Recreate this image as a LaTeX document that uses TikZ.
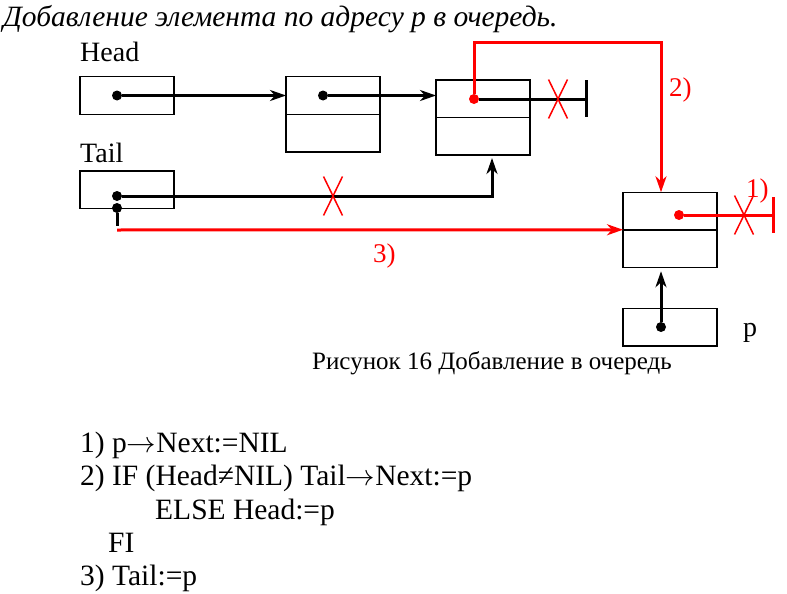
\RequirePackage{fix-cm}
\documentclass[tikz,border=0pt]{standalone}
\usepackage{fontspec}
\setmainfont{Liberation Serif}
\newcommand\toarrow{\ensuremath{\rightarrow}}
\usetikzlibrary{arrows.meta,positioning}

\begin{document}
\begin{tikzpicture}[
    x=1pt, y=-1pt,
    cell/.style={draw, line width=1.5pt, minimum width=94pt, minimum height=37.5pt, inner sep=0pt, outer sep=0pt},
    ptr/.style={->, >={Stealth[length=16pt,width=11pt,inset=5pt]}, line width=3pt},
    redptr/.style={ptr, red},
    link/.style={line width=3pt},
    dot/.style={circle, fill, inner sep=0pt, minimum size=10pt},
    xmark/.style={red, line width=1.5pt},
    lbl/.style={font=\fontsize{28}{32}\selectfont, inner sep=0pt, anchor=base west},
    code/.style={font=\fontsize{29.5}{34}\selectfont, inner sep=0pt, anchor=base west}
]
\useasboundingbox (0,0) rectangle (787,594);

% Title
\node[anchor=base west, inner sep=0pt, font=\fontsize{29.5}{34}\selectfont\itshape] (title) at (3,27)
    {Добавление элемента по адресу р в очередь.};

% Cells of the queue
\node[cell] (hp) at (127,95.5) {};
\node[cell] (b2a) at (333,95.5) {};
\node[cell, below=0pt of b2a] (b2b) {};
\node[cell] (b3a) at (483,98.75) {};
\node[cell, below=0pt of b3a] (b3b) {};
\node[cell] (tp) at (127,189.5) {};
\node[cell] (b4a) at (670,211) {};
\node[cell, below=0pt of b4a] (b4b) {};
\node[cell] (pp) at (670,327) {};

% Labels
\node[lbl] (head) at (80,62) {Head};
\node[lbl] (tail) at (80,162) {Tail};
\node[lbl] (plbl) at (743,336) {p};
\node[lbl, red, font=\fontsize{27}{30}\selectfont] (s2) at (669,96) {2)};
\node[lbl, red, font=\fontsize{27}{30}\selectfont] (s1) at (746,197) {1)};
\node[lbl, red, font=\fontsize{27}{30}\selectfont] (s3) at (373,262) {3)};

% Pointers
\node[dot] (hd) at (117,95.5) {};
\node[dot] (d2) at (323,95.5) {};
\node[dot, red] (d3) at (474,99) {};
\node[dot] (td) at (117,196) {};
\node[dot] (td2) at (117,208) {};
\node[dot, red] (d4) at (679,215) {};
\node[dot] (pd) at (661,327) {};

\coordinate (nil3) at (586,99);
\coordinate (nil4) at (773,215);
\coordinate (tc) at (492,196);
\coordinate (tr) at (117,230);
\coordinate (c2) at (661,43);

\draw[ptr] (hd) -- (b2a.west);
\draw[ptr] (d2) -- (b3a.west |- d2);
\draw[link] (d3) -- (nil3);
\draw[link] (nil3) ++(0,-19) -- ++(0,37);
\draw[ptr, shorten >=3pt] (td) -- (tc) -- (tc |- b3b.south);
\draw[link] (td2) -- ++(0,18);
\draw[ptr, shorten >=4pt] (pd) -- (pd |- b4b.south);

% New links (red)
\draw[redptr] (d3) |- (c2) -- (c2 |- b4a.north);
\draw[redptr] (tr) -- (b4a.south west);
\draw[link, red] (d4) -- (nil4);
\draw[link, red] (nil4) ++(0,-18) -- ++(0,36);

% Crossed out links
\coordinate (x3) at (558,99);
\coordinate (xt) at (333,196);
\coordinate (x4) at (744,215);
\foreach \c in {x3,xt,x4}
  \draw[xmark] (\c) ++(-9.5,-19.5) -- ++(19,39) (\c) ++(9.5,-19.5) -- ++(-19,39);

% Caption
\node[anchor=base west, inner sep=0pt, font=\fontsize{25}{29}\selectfont] (cap) at (312,369)
    {Рисунок 16 Добавление в очередь};

% Algorithm
\node[code] (l1) at (80,452) {1) p\toarrow Next:=NIL};
\node[code] (l2) at (80,485.5) {2) IF (Head≠NIL) Tail\toarrow Next:=p};
\node[code] (l3) at (155,519) {ELSE Head:=p};
\node[code] (l4) at (108,552) {FI};
\node[code] (l5) at (80,585.5) {3) Tail:=p};

\end{tikzpicture}
\end{document}
